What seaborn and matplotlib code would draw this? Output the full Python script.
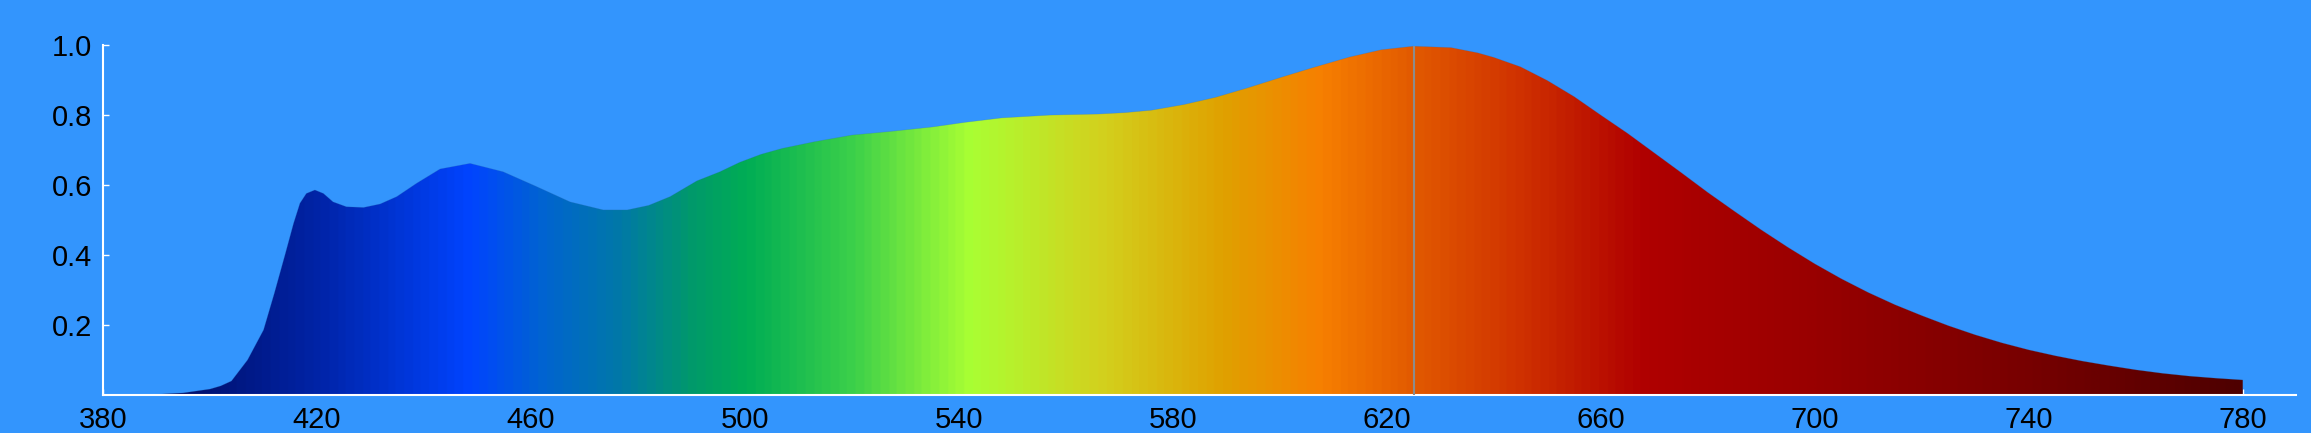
import numpy as np
import pandas as pd
import matplotlib.pyplot as plt
import seaborn as sns
from matplotlib.colors import LinearSegmentedColormap

# Spectrum (relative intensity per wavelength, nm)
wavelength = [388, 390, 395, 400, 402, 404, 407, 410, 412, 414, 415.6, 416.8, 418, 419.6,
              421.2, 423, 425.5, 428.7, 431.8, 434.9, 438.6, 443, 448.6, 454.8, 461, 467.3,
              473.5, 478, 482, 486, 491, 495.3, 499, 503, 507, 513, 520, 527, 535, 541,
              548, 557, 566, 571, 576, 582, 588, 594, 600, 606, 613, 619, 625, 632, 637,
              640, 645, 650, 655, 660, 665, 670, 675, 680, 685, 690, 695, 700, 705, 710,
              715, 720, 725, 730, 735, 740, 745, 750, 755, 760, 765, 770, 775, 780]
intensity = [0.0, 0.002, 0.006, 0.017, 0.026, 0.04, 0.1, 0.186, 0.29, 0.40, 0.49, 0.548, 0.576, 0.586,
             0.576, 0.552, 0.538, 0.536, 0.546, 0.567, 0.605, 0.646, 0.662, 0.638, 0.596, 0.552,
             0.529, 0.529, 0.542, 0.567, 0.612, 0.638, 0.665, 0.688, 0.705, 0.724, 0.743, 0.753, 0.766, 0.779,
             0.792, 0.800, 0.803, 0.807, 0.814, 0.83, 0.851, 0.878, 0.907, 0.935, 0.966, 0.987, 0.997, 0.993, 0.978,
             0.965, 0.938, 0.899, 0.853, 0.80, 0.748, 0.692, 0.636, 0.579, 0.525, 0.472, 0.422, 0.375, 0.332, 0.293,
             0.258, 0.227, 0.198, 0.172, 0.149, 0.129, 0.112, 0.097, 0.084, 0.072, 0.062, 0.054, 0.048, 0.043]

peak_wl = 625

# colour of the fill at each wavelength
color_wl = [380, 400, 420, 448, 462, 476, 490, 500, 520, 542, 566, 590, 608, 625, 645, 668, 700, 740, 780]
color_hex = ["#0a0a5a", "#001478", "#0024a8", "#0044ff", "#0064d0", "#0078a8", "#009a6a", "#00ad55",
             "#3cd04a", "#aaff33", "#d2d21e", "#e0a000", "#f77f00", "#e25a00", "#d03200", "#b00000",
             "#990000", "#780000", "#4e0000"]

x_ticks = [380, 420, 460, 500, 540, 580, 620, 660, 700, 740, 780]
y_ticks = [0.2, 0.4, 0.6, 0.8, 1.0]

bg = "#3395fd"
sns.set_theme(style="ticks")
plt.rcParams["font.family"] = ["Liberation Sans", "DejaVu Sans"]

df = pd.DataFrame({"wl": wavelength, "val": intensity})

fig = plt.figure(figsize=(23.11, 4.33), dpi=100, facecolor=bg)
ax = fig.add_axes([0.0446, 0.0878, 0.949, 0.808])
ax.set_facecolor(bg)

# gradient clipped to the area under the curve
lo, hi = color_wl[0], color_wl[-1]
cmap = LinearSegmentedColormap.from_list(
    "spec", [((w - lo) / (hi - lo), c) for w, c in zip(color_wl, color_hex)])
grad = np.linspace(0, 1, 1200).reshape(1, -1)
area = ax.fill_between(df["wl"], df["val"], 0, color="none", lw=0)
im = ax.imshow(grad, cmap=cmap, extent=(lo, hi, 0, 1), aspect="auto", origin="lower", zorder=1)
im.set_clip_path(area.get_paths()[0], transform=ax.transData)

# faint edge along the curve
sns.lineplot(data=df, x="wl", y="val", ax=ax, color="#2f6fb8", lw=0.5, alpha=0.3, zorder=2)

# peak marker
ax.vlines(peak_wl, 0, np.interp(peak_wl, wavelength, intensity), color="#8c8c8c", lw=1.5, zorder=3)

ax.set_xlim(380, 790)
ax.set_ylim(0, 1.0)
ax.set_xticks(x_ticks)
ax.set_yticks(y_ticks)
ax.set_yticklabels([f"{v:.1f}" for v in y_ticks])
ax.set_xlabel("")
ax.set_ylabel("")
ax.tick_params(direction="in", length=4, width=1, color="white", labelcolor="black",
               labelsize=21)
ax.tick_params(axis="x", pad=8)
ax.tick_params(axis="y", pad=8)
for s in ["top", "right"]:
    ax.spines[s].set_visible(False)
for s in ["left", "bottom"]:
    ax.spines[s].set_color("white")
    ax.spines[s].set_linewidth(1.5)

fig.savefig("out.png", dpi=100, facecolor=bg)
